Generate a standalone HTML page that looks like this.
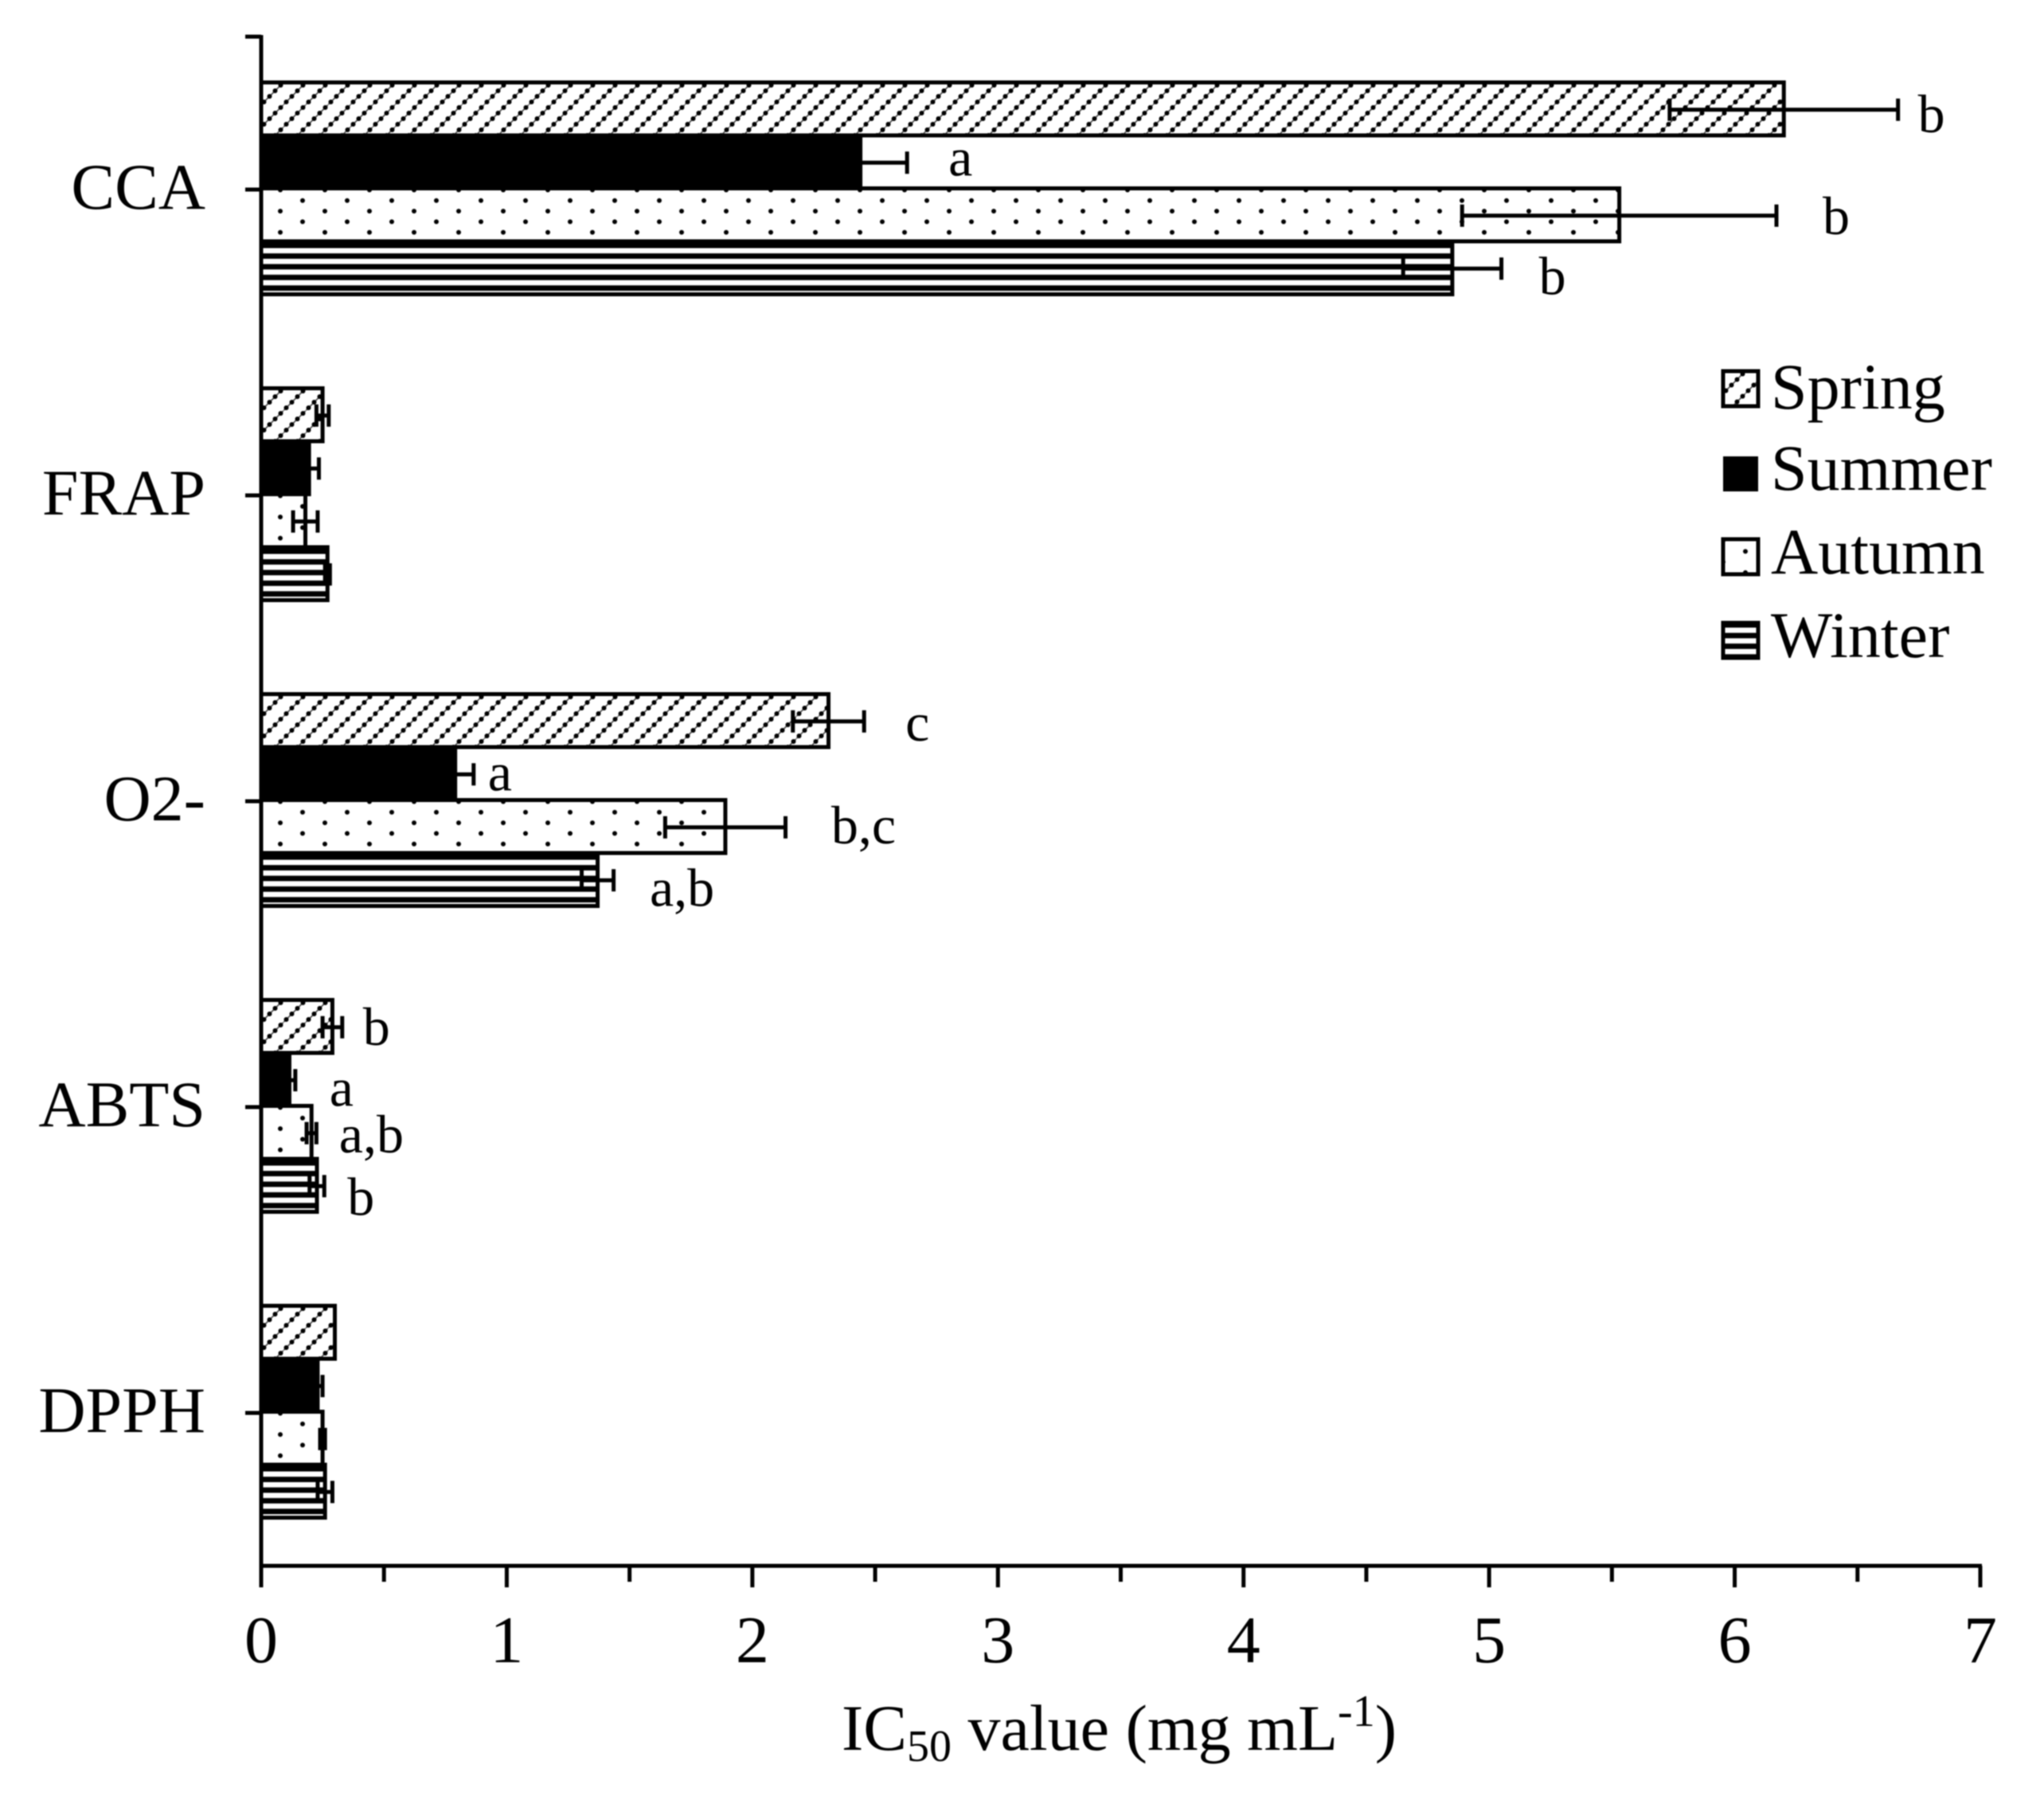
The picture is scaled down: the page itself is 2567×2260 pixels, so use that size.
<!DOCTYPE html>
<html lang="en">
<head>
<meta charset="utf-8">
<title>IC50 value by season</title>
<style>
html,body{margin:0;padding:0;background:#fff;}
#chart{display:block;width:2567px;height:2260px;filter:blur(0.7px);}
text{font-family:"Liberation Serif","Times New Roman",serif;fill:#000;}
</style>
</head>
<body>
<svg id="chart" xmlns="http://www.w3.org/2000/svg" width="2567" height="2260" viewBox="0 0 2567 2260">
<rect width="2567" height="2260" fill="#fff"/>
<defs id="defs"></defs>
<g id="bars"></g>
<g id="axes"></g>
<g id="errors"></g>
<g id="labels"></g>
<g id="legend"></g>
<text x="1057" y="2197" font-size="82">IC<tspan font-size="56" dy="14">50</tspan><tspan dy="-14"> value (mg mL</tspan><tspan font-size="56" dy="-30">-1</tspan><tspan dy="30">)</tspan></text>
</svg>
<script>
const categories = ['CCA', 'FRAP', 'O2-', 'ABTS', 'DPPH'];
const seasons = ['Spring', 'Summer', 'Autumn', 'Winter'];
const springValues = [6.2, 0.25, 2.31, 0.29, 0.30];
const summerValues = [2.44, 0.195, 0.79, 0.115, 0.23];
const autumnValues = [5.53, 0.18, 1.89, 0.205, 0.25];
const winterValues = [4.85, 0.27, 1.37, 0.227, 0.26];
const springErrors = [0.465, 0.025, 0.145, 0.04, 0];
const summerErrors = [0.19, 0.04, 0.075, 0.024, 0.02];
const autumnErrors = [0.64, 0.05, 0.245, 0.02, 0.01];
const winterErrors = [0.2, 0.01, 0.065, 0.03, 0.03];
const springLetters = ['b', '', 'c', 'b', ''];
const summerLetters = ['a', '', 'a', 'a', ''];
const autumnLetters = ['b', '', 'b,c', 'a,b', ''];
const winterLetters = ['b', '', 'a,b', 'b', ''];
const xTickLabels = ['0', '1', '2', '3', '4', '5', '6', '7'];

const valueSeries = [springValues, summerValues, autumnValues, winterValues];
const errorSeries = [springErrors, summerErrors, autumnErrors, winterErrors];
const letterSeries = [springLetters, summerLetters, autumnLetters, winterLetters];

const NS = 'http://www.w3.org/2000/svg';
const plotLeft = 328, plotRight = 2487, plotTop = 46, plotBottom = 1966;
const xMax = 7;
const barHeight = 66.5;
function xScale(v) { return plotLeft + (plotRight - plotLeft) * v / xMax; }
function catCenter(i) { return plotTop + (plotBottom - plotTop) * (i + 0.5) / categories.length; }
function barTop(c, s) { return catCenter(c) - 2 * barHeight + s * barHeight - 1.5; }

function make(tag, attrs, parent) {
  const el = document.createElementNS(NS, tag);
  for (const k in attrs) el.setAttribute(k, attrs[k]);
  if (parent) parent.appendChild(el);
  return el;
}
const defs = document.getElementById('defs');
const barsG = document.getElementById('bars');
const axesG = document.getElementById('axes');
const errorsG = document.getElementById('errors');
const labelsG = document.getElementById('labels');
const legendG = document.getElementById('legend');

function springPattern(id, ox, oy) {
  const p = make('pattern', {id: id, patternUnits: 'userSpaceOnUse', x: ox, y: oy, width: 28, height: 28}, defs);
  make('rect', {width: 28, height: 28, fill: '#fff'}, p);
  make('line', {x1: 0, y1: 28, x2: 28, y2: 0, stroke: '#444', 'stroke-width': 1.6}, p);
  for (const t of [3.5, 10.5, 17.5, 24.5]) {
    make('circle', {cx: t, cy: 28 - t, r: 3, fill: '#000'}, p);
  }
}
function autumnPattern(id, ox, oy) {
  const p = make('pattern', {id: id, patternUnits: 'userSpaceOnUse', x: ox, y: oy, width: 56, height: 26.6}, defs);
  make('rect', {width: 56, height: 26.6, fill: '#fff'}, p);
  make('circle', {cx: 14, cy: 0, r: 3, fill: '#000'}, p);
  make('circle', {cx: 14, cy: 26.6, r: 3, fill: '#000'}, p);
  make('circle', {cx: 42, cy: 13.3, r: 3, fill: '#000'}, p);
}
function winterPattern(id, ox, oy) {
  const p = make('pattern', {id: id, patternUnits: 'userSpaceOnUse', x: ox, y: oy, width: 100, height: 13.4}, defs);
  make('rect', {width: 100, height: 13.4, fill: '#000'}, p);
  make('rect', {x: 0, y: 3, width: 100, height: 6.6, fill: '#fff'}, p);
}
function fillFor(s, c, x, y) {
  const id = 'fill-' + s + '-' + c;
  if (s === 0) { springPattern(id, x, y); return 'url(#' + id + ')'; }
  if (s === 1) return '#000';
  if (s === 2) { autumnPattern(id, x + 10, y + 2); return 'url(#' + id + ')'; }
  winterPattern(id, x, y + 5.5);
  return 'url(#' + id + ')';
}

/* bars */
for (let c = 0; c < categories.length; c++) {
  for (let s = 0; s < seasons.length; s++) {
    const top = barTop(c, s);
    const right = xScale(valueSeries[s][c]);
    const bar = make('rect', {x: plotLeft, y: top, width: right - plotLeft, height: barHeight,
      fill: fillFor(s, c, plotLeft, top), stroke: '#000', 'stroke-width': 5}, barsG);
    
    
  }
}

/* error bars */
for (let c = 0; c < categories.length; c++) {
  for (let s = 0; s < seasons.length; s++) {
    const v = valueSeries[s][c], e = errorSeries[s][c];
    if (!e) continue;
    const cy = barTop(c, s) + barHeight / 2 + 1;
    const x1 = xScale(v - e), x2 = xScale(v + e);
    const g = make('g', {stroke: '#000', 'stroke-width': 5}, errorsG);
    
    
    make('line', {x1: x1, y1: cy, x2: x2, y2: cy}, g);
    make('line', {x1: x1, y1: cy - 14, x2: x1, y2: cy + 14}, g);
    make('line', {x1: x2, y1: cy - 14, x2: x2, y2: cy + 14}, g);
  }
}

/* significance letters: gap from whisker end and drop from bar centre */
const labelLayout = {
  '0-0': [42, 29], '0-1': [67, 17], '0-2': [75, 24], '0-3': [64, 33],
  '2-0': [67, 25], '2-1': [33, 21], '2-2': [98, 21], '2-3': [86, 33],
  '3-0': [43, 23], '3-1': [58, 33], '3-2': [69, 25], '3-3': [46, 37]
};
for (let c = 0; c < categories.length; c++) {
  for (let s = 0; s < seasons.length; s++) {
    const letter = letterSeries[s][c];
    if (!letter) continue;
    const lay = labelLayout[c + '-' + s] || [40, 25];
    const t = make('text', {x: xScale(valueSeries[s][c] + errorSeries[s][c]) + lay[0],
      y: barTop(c, s) + barHeight / 2 + lay[1], 'font-size': 68, 'text-anchor': 'middle'}, labelsG);
    t.textContent = letter;
    
    
  }
}

/* axes */
const yAxis = make('line', {x1: plotLeft, y1: plotTop - 2, x2: plotLeft, y2: plotBottom + 27, stroke: '#000', 'stroke-width': 5}, axesG);


const xAxis = make('line', {x1: plotLeft, y1: plotBottom, x2: plotRight + 2, y2: plotBottom, stroke: '#000', 'stroke-width': 5}, axesG);


const topTick = make('line', {x1: plotLeft - 20, y1: plotTop, x2: plotLeft, y2: plotTop, stroke: '#000', 'stroke-width': 5}, axesG);


for (let c = 0; c < categories.length; c++) {
  const cy = catCenter(c);
  const tick = make('line', {x1: plotLeft - 20, y1: cy, x2: plotLeft, y2: cy, stroke: '#000', 'stroke-width': 5}, axesG);
  
  
  const label = make('text', {x: 258, y: cy + 24, 'font-size': 82, 'text-anchor': 'end'}, axesG);
  label.textContent = categories[c];
  
  
}
for (let i = 0; i < xTickLabels.length; i++) {
  const v = Number(xTickLabels[i]);
  const x = xScale(v);
  const major = make('line', {x1: x, y1: plotBottom, x2: x, y2: plotBottom + 27, stroke: '#000', 'stroke-width': 5}, axesG);
  
  
  const label = make('text', {x: x, y: 2087, 'font-size': 84, 'text-anchor': 'middle'}, axesG);
  label.textContent = xTickLabels[i];
  
  
  if (i < xTickLabels.length - 1) {
    const xm = xScale(v + 0.5);
    const minor = make('line', {x1: xm, y1: plotBottom, x2: xm, y2: plotBottom + 20, stroke: '#000', 'stroke-width': 5}, axesG);
    
    
  }
}

/* legend */
const legendTop = [466, 573, 677, 782];
const legendBase = [513, 615, 720, 825];
for (let s = 0; s < seasons.length; s++) {
  const y = legendTop[s];
  const id = 'legend-fill-' + s;
  let fill = '#000';
  if (s === 0) springPattern(id, 2164, y);
  if (s === 2) autumnPattern(id, 2150, y + 2);
  if (s === 3) winterPattern(id, 2164, y + 3);
  if (s !== 1) fill = 'url(#' + id + ')';
  const swatch = make('rect', {x: 2164, y: y, width: 44, height: 44, fill: fill, stroke: '#000', 'stroke-width': s === 1 ? 0 : 5}, legendG);
  
  
  const text = make('text', {x: 2224, y: legendBase[s], 'font-size': 82}, legendG);
  text.textContent = seasons[s];
  
  
}
</script>
</body>
</html>
